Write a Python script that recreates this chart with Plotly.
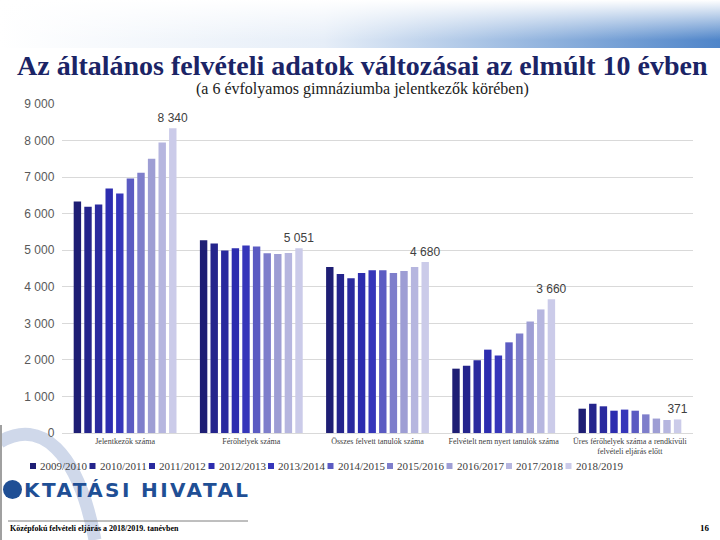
import plotly.graph_objects as go

categories = [
    "Jelentkezők száma",
    "Férőhelyek száma",
    "Összes felvett tanulók száma",
    "Felvételt nem nyert tanulók száma",
    "Üres férőhelyek száma a rendkívüli<br>felvételi eljárás előtt",
]
years = ["2009/2010", "2010/2011", "2011/2012", "2012/2013", "2013/2014",
         "2014/2015", "2015/2016", "2016/2017", "2017/2018", "2018/2019"]
jelentkezok = [6330, 6190, 6250, 6690, 6550, 6960, 7120, 7500, 7950, 8340]
ferohelyek = [5270, 5185, 4995, 5051, 5130, 5100, 4920, 4895, 4925, 5051]
felvettek = [4540, 4350, 4235, 4380, 4450, 4450, 4380, 4435, 4540, 4680]
nem_nyert = [1760, 1840, 1990, 2280, 2120, 2480, 2720, 3050, 3380, 3660]
ures = [665, 800, 730, 610, 640, 610, 510, 395, 355, 371]
colors = ["#1e1e74", "#24248c", "#2a2a9e", "#2d2daf", "#3636ba",
          "#5b5bc2", "#7e7ecb", "#9e9ed4", "#b6b6df", "#cbcbe9"]

series = [jelentkezok, ferohelyek, felvettek, nem_nyert, ures]

fig = go.Figure()
for i, yr in enumerate(years):
    vals = [s[i] for s in series]
    last = i == len(years) - 1
    fig.add_trace(go.Bar(
        name=yr, x=categories, y=vals,
        marker=dict(color=colors[i], line=dict(width=0)),
        text=[f"{v:,}".replace(",", " ") for v in vals] if last else None,
        textposition="outside" if last else None,
        constraintext="none",
        textfont=dict(family="Liberation Sans", size=12, color="#404040"),
        cliponaxis=False,
        showlegend=False,
    ))

# plot area in pixels
L, R, T, B = 62, 693, 104, 433
W, H = 720, 540

def px(x):
    return (x - L) / (R - L)

def py(y):
    return (B - y) / (B - T)

fig.update_layout(
    width=W, height=H,
    margin=dict(l=L, r=W - R, t=T, b=H - B, autoexpand=False),
    paper_bgcolor="white", plot_bgcolor="rgba(0,0,0,0)",
    separators=", ",
    barmode="group", bargap=0.16, bargroupgap=0.3,
    xaxis=dict(showgrid=False, tickfont=dict(family="Liberation Serif", size=8, color="#404040"),
               showline=True, linecolor="#d9d9d9", ticks=""),
    yaxis=dict(range=[0, 9000], dtick=1000, tickformat=",d", gridcolor="#d9d9d9",
               zeroline=False, tickfont=dict(family="Liberation Sans", size=12, color="#595959"),
               ticksuffix="  "),
    font=dict(family="Liberation Serif"),
)

# legend (drawn from years / colors)
leg_x0, leg_dx, leg_y = 30, 59.5, 466
for i, yr in enumerate(years):
    x = leg_x0 + i * leg_dx
    fig.add_shape(type="rect", xref="paper", yref="paper",
                  x0=px(x), x1=px(x + 6), y0=py(leg_y - 3), y1=py(leg_y + 3),
                  fillcolor=colors[i], line=dict(width=0))
    fig.add_annotation(text=yr, xref="paper", yref="paper", x=px(x + 8), y=py(leg_y),
                       xanchor="left", yanchor="middle", showarrow=False,
                       font=dict(family="Liberation Serif", size=11, color="#404040"))

# top gradient band
grad_svg = ("data:image/svg+xml;utf8,<svg xmlns='http://www.w3.org/2000/svg' width='720' height='48'>"
            "<defs><linearGradient id='g' x1='0' x2='1' y1='0' y2='0'>"
            "<stop offset='0' stop-color='%23ffffff'/><stop offset='0.45' stop-color='%23e6eef8'/>"
            "<stop offset='1' stop-color='%234f85c9'/></linearGradient>"
            "<linearGradient id='h' x1='0' x2='0' y1='0' y2='1'>"
            "<stop offset='0' stop-color='%23ffffff' stop-opacity='1'/><stop offset='1' stop-color='%23ffffff' stop-opacity='0'/></linearGradient></defs>"
            "<rect x='0' y='0' width='720' height='48' fill='url(%23g)'/>"
            "<rect x='0' y='0' width='720' height='40' fill='url(%23h)'/></svg>")
fig.add_layout_image(dict(source=grad_svg, xref="paper", yref="paper",
                          x=px(0), y=py(0), sizex=W / (R - L), sizey=48 / (B - T),
                          xanchor="left", yanchor="top", sizing="stretch", layer="below"))

# decorative arc and lines
fig.add_shape(type="path", xref="paper", yref="paper",
              path=(f"M {px(0)},{py(442)} C {px(40)},{py(418)} {px(78)},{py(450)} "
                    f"{px(95)},{py(540)}"),
              line=dict(color="#cfd8ea", width=13), layer="below")
fig.add_shape(type="line", xref="paper", yref="paper", x0=px(1), x1=px(1), y0=py(425), y1=py(540),
              line=dict(color="#a0a0a0", width=2), layer="below")
fig.add_shape(type="circle", xref="paper", yref="paper", x0=px(3), x1=px(22), y0=py(480), y1=py(499),
              fillcolor="#1f4f95", line=dict(width=0))
fig.add_shape(type="line", xref="paper", yref="paper", x0=px(8), x1=px(248), y0=py(521), y1=py(521),
              line=dict(color="#7f7f7f", width=1))

fig.add_annotation(text="<b>Az általános felvételi adatok változásai az elmúlt 10 évben</b>",
                   xref="paper", yref="paper", x=px(362), y=py(65), xanchor="center", yanchor="middle",
                   showarrow=False, font=dict(family="Liberation Serif", size=28, color="#1b2466"))
fig.add_annotation(text="(a 6 évfolyamos gimnáziumba jelentkezők körében)",
                   xref="paper", yref="paper", x=px(362), y=py(89), xanchor="center", yanchor="middle",
                   showarrow=False, font=dict(family="Liberation Serif", size=16, color="#1a1a1a"))
fig.add_annotation(text="<b><span style='letter-spacing:2.4px'>KTATÁSI HIVATAL</span></b>",
                   xref="paper", yref="paper", x=px(22), y=py(490), xanchor="left", yanchor="middle",
                   showarrow=False, font=dict(family="DejaVu Sans", size=20, color="#1f4f95"))
fig.add_annotation(text="<b>Középfokú felvételi eljárás a 2018/2019. tanévben</b>",
                   xref="paper", yref="paper", x=px(8), y=py(528), xanchor="left", yanchor="middle",
                   showarrow=False, font=dict(family="Liberation Serif", size=8, color="#000000"))
fig.add_annotation(text="<b>16</b>",
                   xref="paper", yref="paper", x=px(712), y=py(528), xanchor="right", yanchor="middle",
                   showarrow=False, font=dict(family="Liberation Serif", size=9, color="#000000"))

fig.write_html("out.html", config={"displayModeBar": False},
               post_script="document.body.style.margin='0';document.body.style.padding='0';")
